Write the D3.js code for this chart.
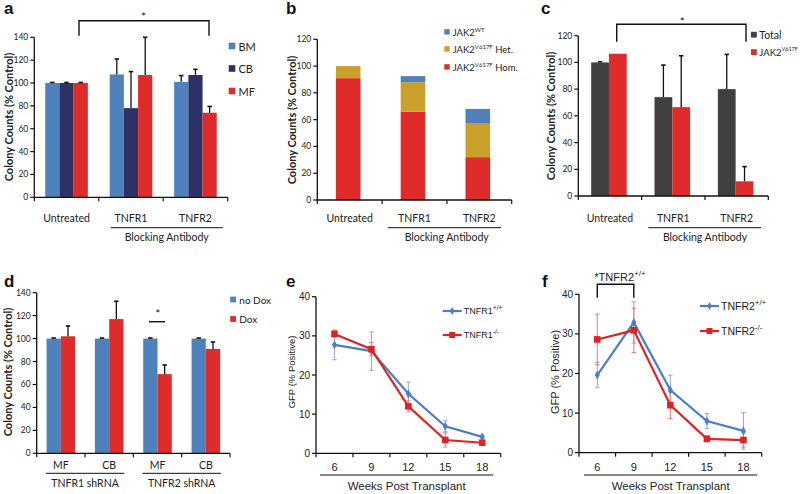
<!DOCTYPE html>
<html><head><meta charset="utf-8">
<script src="https://cdn.jsdelivr.net/npm/d3@7/dist/d3.min.js"></script>
<style>body{margin:0;background:#fff}svg{display:block}</style>
</head><body><svg id="c" width="800" height="494"></svg>
<script>
// ---------- DATA ----------
const catsABC = ["Untreated", "TNFR1", "TNFR2"];
const seriesA = ["BM", "CB", "MF"];
const aBM = [100, 107.5, 101], aBMErr = [0.5, 13.5, 5.5];
const aCB = [100, 78, 107], aCBErr = [0.5, 32, 5];
const aMF = [100, 107, 74], aMFErr = [0.5, 33, 5.5];
const ticksA = [0, 20, 40, 60, 80, 100, 120, 140];

const seriesB = ["WT", "Het", "Hom"];
const bHom = [91, 66, 32];
const bHet = [9, 22, 25];
const bWT = [0, 4.5, 11];
const ticksB = [0, 20, 40, 60, 80, 100, 120];

const seriesC = ["Total", "JAK2V617F"];
const cTotal = [100, 74, 80], cTotalErr = [0.5, 24, 26];
const cJak = [106.5, 66.5, 11], cJakErr = [0, 38.5, 11];
const ticksC = [0, 20, 40, 60, 80, 100, 120];

const catsD = ["TNFR1 MF", "TNFR1 CB", "TNFR2 MF", "TNFR2 CB"];
const labelsD = ["MF", "CB", "MF", "CB"];
const groupsD = ["TNFR1 shRNA", "TNFR2 shRNA"];
const seriesD = ["no Dox", "Dox"];
const dNoDox = [100, 100, 100, 100], dNoDoxErr = [0.5, 0.5, 0.5, 0.5];
const dDox = [102, 117, 69, 91], dDoxErr = [9, 15.5, 8, 6];
const ticksD = [0, 20, 40, 60, 80, 100, 120, 140];

const weeks = [6, 9, 12, 15, 18];
const eWT = [27.7, 26.1, 15.2, 6.9, 4.2], eWTErr = [3.8, 4.9, 3.0, 1.4, 0.4];
const eKO = [30.5, 26.6, 12.0, 3.4, 2.7], eKOErr = [0.8, 1.7, 1.4, 1.8, 0.5];
const fWT = [19.6, 32.9, 15.8, 8.0, 5.5], fWTErr = [3.2, 5.2, 3.8, 1.9, 4.6];
const fKO = [28.6, 30.9, 12.0, 3.5, 3.2], fKOErr = [6.4, 5.6, 3.4, 0.7, 1.8];
const ticksEF = [0, 10, 20, 30, 40];

// ---------- STYLE ----------
const C = {blue: "#4f81bd", navy: "#2c3266", red: "#e02b2b", gold: "#c9a02a", gray: "#404040",
  lblue: "#4a7fc8", lred: "#e02222", text: "#222"};
const FA = "Lato, 'Open Sans', sans-serif";
const FL = "'Liberation Sans', Arial, sans-serif";

const svg = d3.select("#c");

function txt(g, x, y, s, o = {}) {
  return g.append("text").attr("x", x).attr("y", y).text(s)
    .attr("font-family", o.font || FA).attr("font-size", o.size || 10.5)
    .attr("font-weight", o.weight || "normal").attr("fill", o.fill || C.text)
    .attr("text-anchor", o.anchor || "middle").attr("dominant-baseline", "central");
}
function line(g, x1, y1, x2, y2, w = 1, col = "#111") {
  g.append("line").attr("x1", x1).attr("y1", y1).attr("x2", x2).attr("y2", y2)
    .attr("stroke", col).attr("stroke-width", w);
}
function yAxis(g, y, x, ticks, fs, font) {
  line(g, x, y(ticks[0]), x, y(ticks[ticks.length - 1]), 1.3);
  ticks.forEach(t => {
    line(g, x - 4, y(t), x, y(t), 1.2);
    txt(g, x - 6, y(t), t, {anchor: "end", size: fs, font: font});
  });
}
function xAxisBands(g, xs, y0) {
  const r = xs.range();
  line(g, r[0], y0, r[1], y0, 1.3);
  xs.domain().map(d => xs(d)).concat([r[1]]).forEach(p => line(g, p, y0, p, y0 + 4, 1.2));
}
function yTitle(g, x, y, s, o) {
  txt(g, 0, 0, s, o).attr("transform", `translate(${x},${y}) rotate(-90)`);
}
function errUp(g, x, yTop, yBase, col = "#111") {
  line(g, x, yBase, x, yTop, 1.3, col);
  line(g, x - 2.2, yTop, x + 2.2, yTop, 1.6, col);
}
function panelLabel(x, y, s) {
  txt(svg, x, y, s, {size: 17, weight: "bold", anchor: "start", fill: "#111", font: FL});
}

// ---------- PANEL a ----------
{
  const g = svg.append("g");
  const x = d3.scaleBand().domain(catsABC).range([34.3, 227.7]);
  const y = d3.scaleLinear().domain([0, 140]).range([197.3, 37.3]);
  const xi = d3.scaleBand().domain(seriesA).range([0, x.bandwidth()]).paddingOuter(0.77);
  const vals = {BM: [aBM, aBMErr, C.blue], CB: [aCB, aCBErr, C.navy], MF: [aMF, aMFErr, C.red]};
  seriesA.forEach(s => {
    const [v, e, col] = vals[s];
    catsABC.forEach((c, i) => {
      g.append("rect").attr("x", x(c) + xi(s)).attr("width", xi.bandwidth())
        .attr("y", y(v[i])).attr("height", y(0) - y(v[i])).attr("fill", col);
    });
  });
  seriesA.forEach(s => {
    const [v, e] = vals[s];
    catsABC.forEach((c, i) => errUp(g, x(c) + xi(s) + xi.bandwidth() / 2, y(v[i] + e[i]), y(v[i])));
  });
  yAxis(g, y, 34.3, ticksA, 8.5);
  xAxisBands(g, x, y(0));
  catsABC.forEach(c => txt(g, x(c) + x.bandwidth() / 2, 217.5, c, {size: 10.5}));
  line(g, 110.7, 227.7, 222.7, 227.7, 1);
  txt(g, 166.7, 236.5, "Blocking Antibody", {size: 10.5});
  yTitle(g, 8, 117, "Colony Counts (% Control)", {size: 11, weight: "bold"});
  // significance bracket
  g.append("path").attr("d", `M79,35.7V20.7H209V35.7`).attr("fill", "none").attr("stroke", "#111").attr("stroke-width", 1.4);
  txt(g, 143.5, 16, "*", {size: 12});
  // legend
  seriesA.forEach((s, i) => {
    const yy = 46 + i * 22.5;
    g.append("rect").attr("x", 228.7).attr("y", yy - 3.3).attr("width", 6.6).attr("height", 6.6).attr("fill", vals[s][2]);
    txt(g, 238.5, yy, s, {anchor: "start", size: 11});
  });
  panelLabel(4, 8, "a");
}

// ---------- PANEL b ----------
{
  const g = svg.append("g");
  const x = d3.scaleBand().domain(catsABC).range([317.3, 511.7]);
  const y = d3.scaleLinear().domain([0, 120]).range([200, 39.3]);
  const bw = x.bandwidth() * 0.38;
  const stack = d3.stack().keys(["Hom", "Het", "WT"])(
    catsABC.map((c, i) => ({cat: c, Hom: bHom[i], Het: bHet[i], WT: bWT[i]})));
  const cols = {Hom: C.red, Het: C.gold, WT: C.blue};
  stack.forEach(layer => {
    layer.forEach(d => {
      if (d[1] - d[0] <= 0) return;
      g.append("rect").attr("x", x(d.data.cat) + (x.bandwidth() - bw) / 2 - 1.5).attr("width", bw)
        .attr("y", y(d[1])).attr("height", y(d[0]) - y(d[1])).attr("fill", cols[layer.key]);
    });
  });
  yAxis(g, y, 317.3, ticksB, 8.5);
  xAxisBands(g, x, y(0));
  catsABC.forEach(c => txt(g, x(c) + x.bandwidth() / 2, 217.5, c, {size: 10.5}));
  line(g, 388, 227.7, 501, 227.7, 1);
  txt(g, 446.7, 236.5, "Blocking Antibody", {size: 10.5});
  yTitle(g, 291, 120, "Colony Counts (% Control)", {size: 11, weight: "bold"});
  const leg = [["WT", "WT", ""], ["Het", "V617F", " Het."], ["Hom", "V617F", " Hom."]];
  const legY = [32, 49, 67];
  leg.forEach(([k, sup, tail], i) => {
    g.append("rect").attr("x", 444.3).attr("y", legY[i] - 2.8).attr("width", 5.4).attr("height", 5.4).attr("fill", cols[k]);
    const t = txt(g, 452.7, legY[i], "JAK2", {anchor: "start", size: 9.5});
    t.append("tspan").attr("dy", -3.5).attr("font-size", 6).text(sup);
    t.append("tspan").attr("dy", 3.5).text(tail);
  });
  panelLabel(286, 8, "b");
}

// ---------- PANEL c ----------
{
  const g = svg.append("g");
  const x = d3.scaleBand().domain(catsABC).range([578.3, 768.3]);
  const y = d3.scaleLinear().domain([0, 120]).range([196, 35.7]);
  const xi = d3.scaleBand().domain(seriesC).range([0, x.bandwidth()]).paddingOuter(0.78);
  const vals = {"Total": [cTotal, cTotalErr, C.gray], "JAK2V617F": [cJak, cJakErr, C.red]};
  seriesC.forEach(s => {
    const [v, e, col] = vals[s];
    catsABC.forEach((c, i) => g.append("rect").attr("x", x(c) + xi(s) - 1).attr("width", xi.bandwidth())
      .attr("y", y(v[i])).attr("height", y(0) - y(v[i])).attr("fill", col));
  });
  seriesC.forEach(s => {
    const [v, e] = vals[s];
    catsABC.forEach((c, i) => { if (e[i] > 0) errUp(g, x(c) + xi(s) - 1 + xi.bandwidth() / 2, y(v[i] + e[i]), y(v[i])); });
  });
  yAxis(g, y, 578.3, ticksC, 8.5);
  xAxisBands(g, x, y(0));
  catsABC.forEach(c => txt(g, x(c) + x.bandwidth() / 2, 217.5, c, {size: 10.5}));
  line(g, 648.3, 227.7, 761, 227.7, 1);
  txt(g, 705, 236.5, "Blocking Antibody", {size: 10.5});
  yTitle(g, 550, 116, "Colony Counts (% Control)", {size: 11, weight: "bold"});
  g.append("path").attr("d", `M616.7,41.7V24.3H746V41.7`).attr("fill", "none").attr("stroke", "#111").attr("stroke-width", 1.4);
  txt(g, 682.3, 21.5, "*", {size: 12});
  g.append("rect").attr("x", 751).attr("y", 31.8).attr("width", 5.8).attr("height", 5.8).attr("fill", C.gray);
  txt(g, 759.3, 34.7, "Total", {anchor: "start", size: 10.5});
  g.append("rect").attr("x", 751).attr("y", 49.2).attr("width", 5.8).attr("height", 5.8).attr("fill", C.red);
  const t = txt(g, 759.3, 52.3, "JAK2", {anchor: "start", size: 9.5});
  t.append("tspan").attr("dy", -3.5).attr("font-size", 5.5).text("V617F");
  panelLabel(541, 8, "c");
}

// ---------- PANEL d ----------
{
  const g = svg.append("g");
  const x = d3.scaleBand().domain(catsD).range([36.7, 230]);
  const y = d3.scaleLinear().domain([0, 140]).range([453.3, 292.7]);
  const xi = d3.scaleBand().domain(seriesD).range([0, x.bandwidth()]).paddingOuter(0.69);
  const vals = {"no Dox": [dNoDox, dNoDoxErr, C.blue], "Dox": [dDox, dDoxErr, C.red]};
  seriesD.forEach(s => {
    const [v, e, col] = vals[s];
    catsD.forEach((c, i) => g.append("rect").attr("x", x(c) + xi(s)).attr("width", xi.bandwidth())
      .attr("y", y(v[i])).attr("height", y(0) - y(v[i])).attr("fill", col));
  });
  seriesD.forEach(s => {
    const [v, e] = vals[s];
    catsD.forEach((c, i) => errUp(g, x(c) + xi(s) + xi.bandwidth() / 2, y(v[i] + e[i]), y(v[i])));
  });
  yAxis(g, y, 36.7, ticksD, 8.5);
  xAxisBands(g, x, y(0));
  catsD.forEach((c, i) => txt(g, x(c) + x.bandwidth() / 2, 465, labelsD[i], {size: 10.5}));
  groupsD.forEach((gr, k) => {
    const x0 = x(catsD[k * 2]) + 9, x1 = x(catsD[k * 2 + 1]) + x.bandwidth() - 9;
    line(g, x0, 473.3, x1, 473.3, 1);
    txt(g, (x0 + x1) / 2, 482.5, gr, {size: 10.5});
  });
  yTitle(g, 7, 372, "Colony Counts (% Control)", {size: 11, weight: "bold"});
  line(g, 149, 321.7, 165, 321.7, 1.4);
  txt(g, 157.7, 313, "*", {size: 12});
  [["no Dox", C.blue, 299.5], ["Dox", C.red, 319]].forEach(([s, col, yy]) => {
    g.append("rect").attr("x", 230.2).attr("y", yy - 2.9).attr("width", 5.8).attr("height", 5.8).attr("fill", col);
    txt(g, 239.3, yy, s, {anchor: "start", size: 10});
  });
  panelLabel(4, 281.5, "d");
}

// ---------- LINE PANELS ----------
function linePanel(o) {
  const g = svg.append("g");
  const x = d3.scaleBand().domain(weeks).range([o.x0, o.x1]);
  const y = d3.scaleLinear().domain([0, 40]).range([o.yb, o.yt]);
  const cx = w => x(w) + x.bandwidth() / 2;
  yAxis(g, y, o.x0, ticksEF, 10, FL);
  xAxisBands(g, x, y(0));
  weeks.forEach(w => txt(g, cx(w), 466.5, w, {size: 11, font: FL}));
  line(g, o.ul0, 475, o.ul1, 475, 1);
  txt(g, (o.ul0 + o.ul1) / 2, 485.5, "Weeks Post Transplant", {size: 11.5, font: FL});
  yTitle(g, o.titleX, 372, "GFP (% Positive)", {size: o.titleSize, font: FL});
  const ser = [[o.wt, o.wtErr, C.lblue, "#8fb0e0", "d"], [o.ko, o.koErr, C.lred, "#f08080", "s"]];
  ser.forEach(([v, e, col, ecol]) => {
    v.forEach((val, i) => {
      const xx = cx(weeks[i]);
      line(g, xx, y(val - e[i]), xx, y(val + e[i]), 1.1, ecol);
      line(g, xx - 2.2, y(val - e[i]), xx + 2.2, y(val - e[i]), 1.1, ecol);
      line(g, xx - 2.2, y(val + e[i]), xx + 2.2, y(val + e[i]), 1.1, ecol);
    });
  });
  const ln = d3.line().x((d, i) => cx(weeks[i])).y(d => y(d));
  ser.forEach(([v, e, col, ecol, m]) => {
    g.append("path").attr("d", ln(v)).attr("fill", "none").attr("stroke", col).attr("stroke-width", 2.2);
    v.forEach((val, i) => {
      if (m === "s") g.append("rect").attr("x", cx(weeks[i]) - 3.3).attr("y", y(val) - 3.3).attr("width", 6.6).attr("height", 6.6).attr("fill", col);
      else g.append("path").attr("d", d3.symbol(d3.symbolDiamond, 22)()).attr("transform", `translate(${cx(weeks[i])},${y(val)})`).attr("fill", col);
    });
  });
  // legend
  [[o.legY[0], C.lblue, "d", "+/+"], [o.legY[1], C.lred, "s", "-/-"]].forEach(([yy, col, m, sup]) => {
    line(g, o.legX, yy, o.legX + 19, yy, 2.2, col);
    if (m === "s") g.append("rect").attr("x", o.legX + 6.5).attr("y", yy - 3).attr("width", 6).attr("height", 6).attr("fill", col);
    else g.append("path").attr("d", d3.symbol(d3.symbolDiamond, 18)()).attr("transform", `translate(${o.legX + 9.5},${yy})`).attr("fill", col);
    const t = txt(g, o.legX + 21, yy, o.name, {anchor: "start", size: o.legSize, font: FL});
    t.append("tspan").attr("dy", -4.5).attr("font-size", o.legSize * 0.75).text(sup);
  });
  return {g, x, y, cx};
}

{
  linePanel({x0: 316, x1: 500.7, yb: 453.3, yt: 296.7, ul0: 320, ul1: 493.3, titleX: 291, titleSize: 9.5,
    wt: eWT, wtErr: eWTErr, ko: eKO, koErr: eKOErr, legX: 442.7, legY: [311, 335], name: "TNFR1", legSize: 9});
  panelLabel(286, 281, "e");
}
{
  const p = linePanel({x0: 579, x1: 761.7, yb: 452.7, yt: 294.3, ul0: 584, ul1: 757.3, titleX: 555, titleSize: 11,
    wt: fWT, wtErr: fWTErr, ko: fKO, koErr: fKOErr, legX: 700, legY: [306, 331], name: "TNFR2", legSize: 10.5});
  const a = p.cx(weeks[0]), b = p.cx(weeks[1]);
  p.g.append("path").attr("d", `M${a},297.7V284.3H${b}V297.7`).attr("fill", "none").attr("stroke", "#111").attr("stroke-width", 1.4);
  const t = txt(p.g, 620, 277, "*TNFR2", {size: 11, font: FL});
  t.append("tspan").attr("dy", -4).attr("font-size", 8).text("+/+");
  panelLabel(542, 281, "f");
}
</script></body></html>
